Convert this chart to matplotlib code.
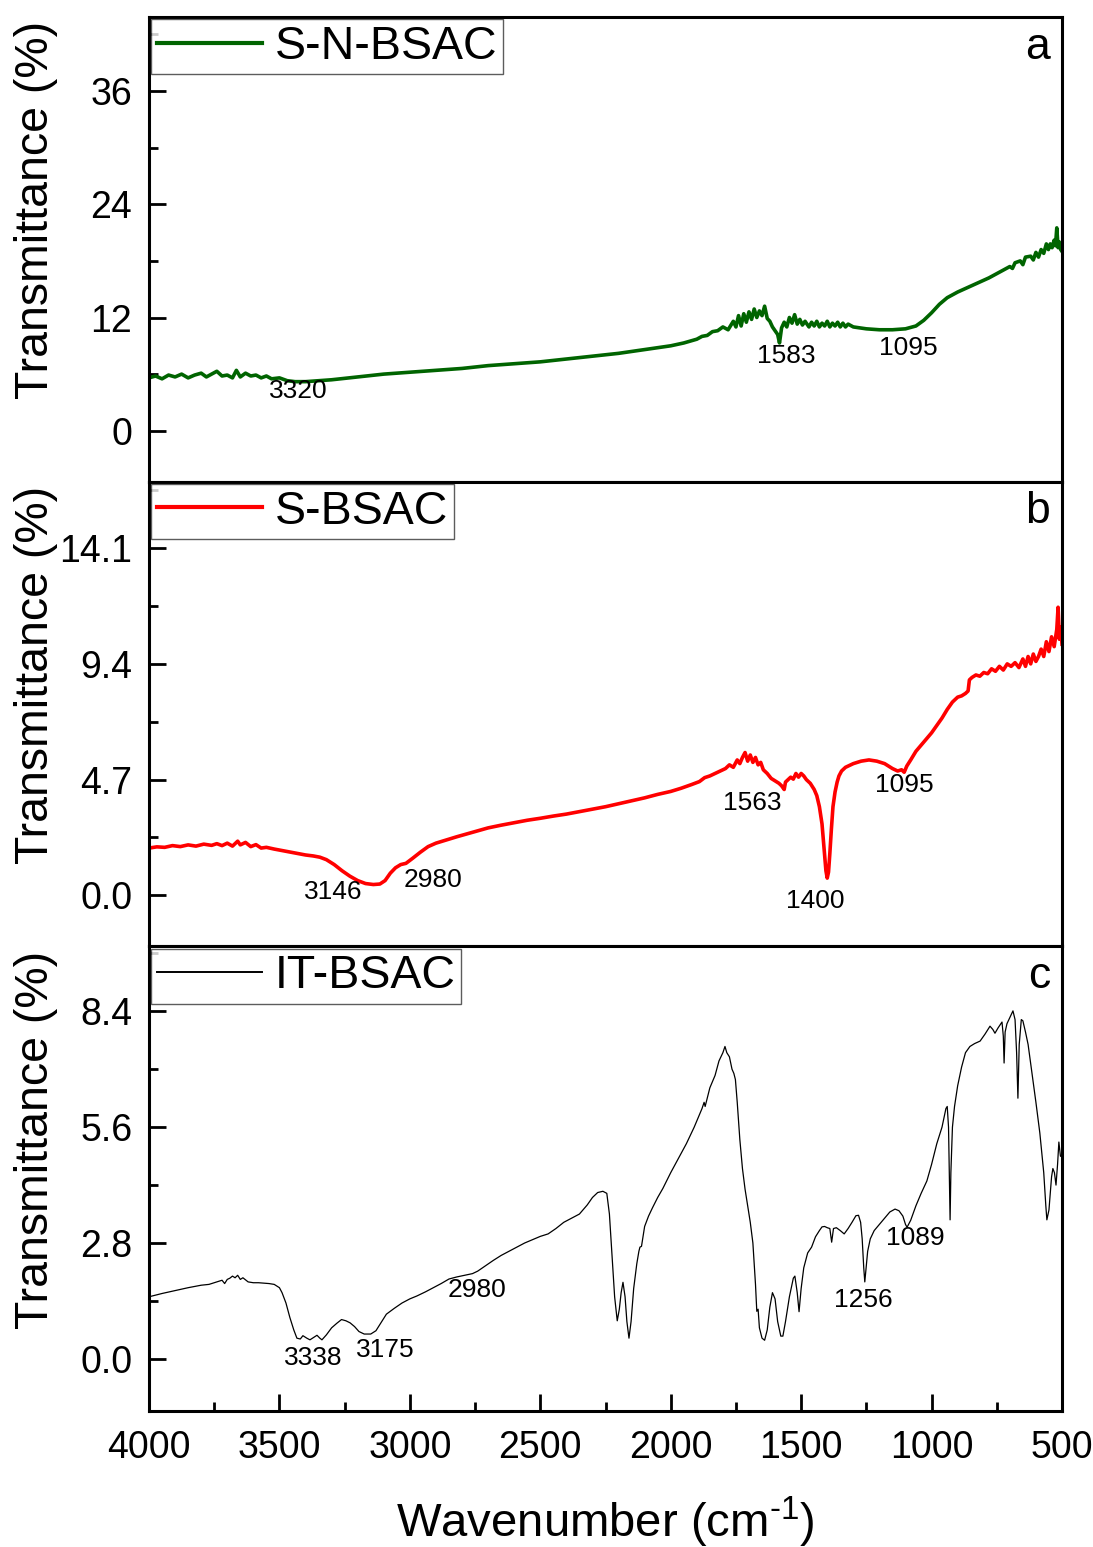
import matplotlib
matplotlib.use("Agg")
import matplotlib.pyplot as plt
from matplotlib.ticker import MultipleLocator, FixedLocator

plt.rcParams['font.family'] = ['Liberation Sans', 'DejaVu Sans']
plt.rcParams['mathtext.fontset'] = 'custom'
plt.rcParams['mathtext.rm'] = 'Liberation Sans'
plt.rcParams['mathtext.it'] = 'Liberation Sans'

# ---------------- data ----------------
wn_a = [4000, 3975, 3950, 3925, 3900, 3875, 3850, 3825, 3800, 3780, 3760, 3740, 3720, 3700,
        3680, 3665, 3650, 3630, 3610, 3590, 3570, 3550, 3530, 3500, 3470, 3440, 3400, 3350,
        3300, 3200, 3100, 3000, 2900, 2800, 2700, 2600, 2500, 2400, 2300, 2200, 2100, 2000,
        1950, 1900, 1880, 1860, 1840, 1820, 1800, 1780, 1760, 1750, 1740, 1730, 1720, 1710,
        1700, 1690, 1680, 1670, 1660, 1650, 1640, 1630, 1620, 1610, 1600, 1590, 1583, 1575,
        1565, 1555, 1545, 1535, 1525, 1515, 1505, 1495, 1485, 1470, 1460, 1450, 1440, 1430,
        1420, 1410, 1400, 1390, 1380, 1370, 1360, 1350, 1340, 1330, 1320, 1300, 1250, 1200,
        1150, 1100, 1060, 1030, 1000, 970, 940, 900, 860, 820, 780, 760, 740, 720, 700, 690,
        680, 660, 650, 640, 620, 610, 600, 590, 580, 570, 560, 552, 545, 538, 530, 525, 520,
        515, 510, 505, 500]
t_a = [5.6, 5.8, 5.5, 5.9, 5.7, 6.0, 5.6, 5.9, 6.1, 5.7, 6.0, 6.3, 5.8, 5.9,
       5.6, 6.4, 5.7, 6.1, 5.8, 5.9, 5.6, 5.8, 5.5, 5.6, 5.3, 5.2, 5.2, 5.3,
       5.4, 5.7, 6.0, 6.2, 6.4, 6.6, 6.9, 7.1, 7.3, 7.6, 7.9, 8.2, 8.6, 9.0,
       9.3, 9.7, 10.0, 10.1, 10.5, 10.6, 11.0, 10.7, 11.6, 11.0, 12.2, 11.1, 12.4, 11.5,
       12.6, 11.8, 12.9, 12.0, 12.7, 12.2, 13.2, 11.9, 11.6, 11.0, 10.6, 10.2, 9.3, 10.9,
       11.5, 11.0, 12.0, 11.4, 12.3, 11.3, 11.8, 11.2, 11.6, 11.0, 11.5, 11.1, 11.6, 11.0,
       11.4, 11.1, 11.6, 11.0, 11.4, 11.1, 11.5, 11.0, 11.4, 11.0, 11.3, 11.0, 10.8, 10.7,
       10.7, 10.8, 11.1, 11.7, 12.5, 13.4, 14.1, 14.7, 15.2, 15.7, 16.2, 16.5, 16.8, 17.1, 17.4, 17.2,
       17.8, 18.0, 17.6, 18.4, 18.5, 18.1, 18.9, 18.4, 19.2, 18.8, 19.8, 19.2, 19.8, 19.4, 20.2, 19.6, 21.5,
       19.4, 20.0, 19.2, 19.0]

wn_b = [4000, 3970, 3940, 3910, 3880, 3850, 3820, 3790, 3760, 3740, 3720, 3700, 3680, 3660,
        3650, 3630, 3610, 3590, 3570, 3550, 3520, 3490, 3460, 3430, 3400, 3370, 3345, 3320,
        3290, 3260, 3230, 3200, 3170, 3140, 3115, 3095, 3075, 3055, 3035, 3015, 2990, 2960,
        2930, 2900, 2860, 2820, 2780, 2740, 2700, 2650, 2600, 2550, 2500, 2450, 2400, 2350,
        2300, 2250, 2200, 2150, 2100, 2050, 2000, 1960, 1920, 1890, 1870, 1850, 1830, 1810,
        1790, 1775, 1760, 1745, 1735, 1725, 1715, 1705, 1695, 1685, 1675, 1665, 1655, 1645,
        1630, 1615, 1600, 1585, 1575, 1565, 1560, 1550, 1540, 1530, 1520, 1510, 1500, 1490,
        1480, 1465, 1450, 1440, 1430, 1420, 1412, 1405, 1400, 1395, 1390, 1384, 1378, 1370,
        1362, 1355, 1345, 1330, 1300, 1270, 1240, 1210, 1180, 1150, 1130, 1115, 1105, 1095,
        1080, 1060, 1040, 1020, 1000, 980, 960, 940, 920, 900, 885, 870, 860, 855, 845, 830,
        815, 800, 785, 770, 755, 740, 725, 710, 695, 680, 665, 650, 640, 630, 620, 610, 600,
        590, 580, 570, 560, 550, 540, 530, 520, 515, 510, 505, 500]
t_b = [1.92, 1.97, 1.95, 2.02, 1.98, 2.05, 2.0, 2.08, 2.03, 2.1, 2.02, 2.12, 2.0, 2.2,
       2.05, 2.15, 1.98, 2.06, 1.92, 1.95, 1.88, 1.82, 1.76, 1.7, 1.64, 1.6, 1.55, 1.45,
       1.25, 1.0, 0.78, 0.6, 0.48, 0.44, 0.46, 0.6, 0.9, 1.12, 1.25, 1.3, 1.5, 1.75,
       1.98, 2.12, 2.25, 2.38, 2.5, 2.62, 2.74, 2.85, 2.95, 3.05, 3.13, 3.22, 3.3, 3.4,
       3.5, 3.6, 3.72, 3.84, 3.96, 4.1, 4.22, 4.35, 4.5, 4.62, 4.78, 4.85, 4.95, 5.05,
       5.15, 5.3, 5.2, 5.5, 5.35, 5.6, 5.8, 5.45, 5.7, 5.4, 5.6, 5.3, 5.4, 5.1,
       4.95, 4.75, 4.65, 4.55, 4.45, 4.3, 4.6, 4.7, 4.8, 4.72, 4.95, 4.8, 4.95, 4.85,
       4.7, 4.55, 4.3, 4.05, 3.6, 2.9, 1.9, 1.0, 0.7, 0.95, 1.7, 2.7, 3.6, 4.2,
       4.6, 4.85, 5.05, 5.2, 5.35, 5.45, 5.5, 5.45, 5.35, 5.15, 5.05, 5.1, 5.0, 5.25,
       5.5, 5.85, 6.1, 6.35, 6.6, 6.9, 7.2, 7.55, 7.85, 8.05, 8.1, 8.2, 8.3, 8.75, 8.85, 8.95,
       8.9, 9.05, 9.0, 9.2, 9.1, 9.3, 9.15, 9.4, 9.3, 9.45, 9.25, 9.6, 9.3, 9.7, 9.4, 9.8, 9.5,
       9.7, 10.0, 9.7, 10.3, 9.9, 10.5, 10.1, 10.8, 11.7, 10.4, 10.9, 10.2]

wn_c = [4000, 3950, 3900, 3850, 3800, 3770, 3740, 3720, 3710, 3700, 3690, 3680, 3670, 3660,
        3650, 3640, 3620, 3600, 3580, 3560, 3540, 3520, 3500, 3490, 3475, 3460, 3445, 3433,
        3420, 3410, 3395, 3383, 3368, 3356, 3345, 3337, 3320, 3300, 3280, 3262, 3245, 3229,
        3212, 3195, 3175, 3150, 3130, 3110, 3090, 3060, 3030, 3000, 2973, 2940, 2910, 2880,
        2850, 2820, 2790, 2760, 2740, 2710, 2680, 2650, 2620, 2590, 2560, 2530, 2500, 2470,
        2440, 2410, 2380, 2350, 2320, 2300, 2280, 2260, 2245, 2235, 2225, 2215, 2205, 2197,
        2190, 2183, 2175, 2168, 2160, 2152, 2142, 2130, 2122, 2118, 2112, 2100, 2085, 2070,
        2050, 2030, 2000, 1970, 1940, 1910, 1880, 1872, 1868, 1850, 1830, 1815, 1800, 1792,
        1785, 1775, 1765, 1758, 1752, 1745, 1735, 1725, 1715, 1705, 1695, 1685, 1675, 1670,
        1665, 1660, 1650, 1640, 1630, 1620, 1610, 1600, 1590, 1578, 1570, 1560, 1545, 1530,
        1524, 1515, 1508, 1500, 1490, 1475, 1460, 1445, 1430, 1420, 1410, 1400, 1390, 1383,
        1376, 1365, 1350, 1335, 1320, 1305, 1290, 1280, 1272, 1266, 1260, 1256, 1251, 1245,
        1235, 1220, 1200, 1180, 1160, 1140, 1125, 1110, 1100, 1094, 1080, 1060, 1040, 1018,
        1000, 980, 960, 945, 940, 935, 931, 929, 926, 920, 912, 900, 885, 870, 853, 835,
        814, 795, 776, 765, 757, 745, 730, 725, 722, 718, 711, 700, 688, 680, 674, 669,
        664, 656, 650, 640, 630, 615, 600, 585, 570, 562, 558, 550, 540, 535, 529, 523,
        517, 512, 506, 500]
t_c = [1.5, 1.58, 1.65, 1.72, 1.78, 1.8, 1.86, 1.9, 1.82, 1.92, 1.95, 2.0, 1.96, 2.02,
       1.92, 1.96, 1.86, 1.84, 1.84, 1.83, 1.82, 1.8, 1.72, 1.6, 1.35, 1.0, 0.7, 0.5,
       0.48, 0.56, 0.5, 0.46, 0.52, 0.57, 0.5, 0.46, 0.58, 0.75, 0.86, 0.95, 0.92, 0.87,
       0.78, 0.66, 0.6, 0.6, 0.68, 0.88, 1.08, 1.22, 1.35, 1.45, 1.52, 1.62, 1.72, 1.82,
       1.93, 1.98, 2.02, 2.06, 2.12, 2.25, 2.38, 2.5, 2.6, 2.7, 2.8, 2.88, 2.96, 3.02,
       3.15, 3.3, 3.4, 3.5, 3.72, 3.9, 4.02, 4.05, 4.0, 3.5, 2.5, 1.5, 0.92, 1.2,
       1.6, 1.85, 1.5, 0.9, 0.5, 0.9, 1.7, 2.3, 2.6, 2.7, 2.72, 3.2, 3.45, 3.65,
       3.9, 4.12, 4.5, 4.85, 5.2, 5.6, 6.05, 6.2, 6.1, 6.55, 6.85, 7.2, 7.4, 7.55,
       7.4, 7.3, 7.0, 6.9, 6.75, 6.2, 5.3, 4.6, 4.1, 3.7, 3.3, 2.8, 1.8, 1.15,
       1.2, 0.75, 0.5, 0.45, 0.7, 1.25, 1.6, 1.45, 0.9, 0.55, 0.55, 0.9, 1.5, 1.95,
       2.0, 1.6, 1.14, 1.7, 2.2, 2.56, 2.7, 2.95, 3.1, 3.19, 3.2, 3.17, 3.15, 2.82,
       3.15, 3.17, 3.1, 3.02, 3.15, 3.3, 3.46, 3.47, 3.3, 2.9, 2.2, 1.86, 2.2, 2.6,
       2.9, 3.1, 3.25, 3.4, 3.55, 3.62, 3.58, 3.45, 3.25, 3.18, 3.35, 3.7, 4.0, 4.3,
       4.7, 5.2, 5.6, 6.05, 6.1, 5.6, 4.2, 3.36, 4.5, 5.6, 6.1, 6.6, 7.05, 7.4, 7.55, 7.62,
       7.68, 7.85, 8.04, 7.96, 7.87, 8.0, 8.14, 7.8, 7.15, 7.9, 8.1, 8.25, 8.41, 8.2, 7.4, 6.3,
       7.6, 8.2, 8.17, 7.9, 7.6, 6.9, 6.2, 5.46, 4.5, 3.7, 3.36, 3.6, 4.4, 4.6, 4.5, 4.2,
       4.7, 5.24, 4.9, 4.88]

series_names = ["S-N-BSAC", "S-BSAC", "IT-BSAC"]
panel_letters = ["a", "b", "c"]
yticks_a = [0, 12, 24, 36]
yticks_b = [0.0, 4.7, 9.4, 14.1]
yticks_c = [0.0, 2.8, 5.6, 8.4]
xticks = [4000, 3500, 3000, 2500, 2000, 1500, 1000, 500]

peaks_a = [(3320, 3429, 4.24), (1583, 1558, 7.9), (1095, 1090, 8.8)]
peaks_b = [(3146, 3295, 0.12), (2980, 2911, 0.61), (1563, 1688, 3.74), (1400, 1447, -0.24), (1095, 1106, 4.5)]
peaks_c = [(3338, 3371, 0.02), (3175, 3095, 0.22), (2980, 2743, 1.67), (1256, 1263, 1.43), (1089, 1064, 2.92)]

# ---------------- figure ----------------
fig, axes = plt.subplots(3, 1, figsize=(10.93, 15.47), dpi=100, sharex=True)
fig.subplots_adjust(left=149/1093, right=1062/1093, top=1-17/1547, bottom=1-1411/1547, hspace=0)

specs = [
    (wn_a, t_a, '#006400', 2.6, (-5.4, 43.85), yticks_a, 6, [str(v) for v in yticks_a], peaks_a),
    (wn_b, t_b, '#ff0000', 2.6, (-2.07, 16.8), yticks_b, 2.35, [f"{v:.1f}" for v in yticks_b], peaks_b),
    (wn_c, t_c, '#000000', 0.9, (-1.26, 9.97), yticks_c, 1.4, [f"{v:.1f}" for v in yticks_c], peaks_c),
]

for i, (ax, spec) in enumerate(zip(axes, specs)):
    wn, tv, col, lw, ylim, yt, ymin_step, ytl, peaks = spec
    ax.plot(wn, tv, color=col, lw=lw, label=series_names[i])
    ax.set_xlim(4000, 500)
    ax.set_ylim(*ylim)
    ax.set_yticks(yt)
    ax.set_yticklabels(ytl)
    ax.yaxis.set_minor_locator(MultipleLocator(ymin_step))
    ax.xaxis.set_major_locator(FixedLocator(xticks))
    ax.xaxis.set_minor_locator(MultipleLocator(250))
    for s in ax.spines.values():
        s.set_linewidth(2.2)
    ax.tick_params(which='major', direction='in', length=12, width=2.0, labelsize=27, pad=12)
    ax.tick_params(which='minor', direction='in', length=6.5, width=2.0)
    ax.tick_params(axis='x', which='both', top=False, bottom=(i == 2))
    ax.tick_params(axis='y', which='both', right=False)
    ax.set_ylabel("Transmittance (%)", fontsize=33.5)
    ax.yaxis.set_label_coords(-0.10, 0.584)
    leg = ax.legend(loc='upper left', bbox_to_anchor=(0, 1), borderaxespad=0.05,
                    fontsize=33.5, frameon=True, fancybox=False, shadow=False,
                    handlelength=2.25, handletextpad=0.28, borderpad=0.12)
    leg.get_frame().set_edgecolor('#333333')
    leg.get_frame().set_linewidth(1.0)
    for ln in leg.get_lines():
        ln.set_linewidth(3.0 if i < 2 else 1.4)
    ax.text(0.987, 0.935, panel_letters[i], transform=ax.transAxes, fontsize=32,
            ha='right', va='center')
    for lab, x, y in peaks:
        ax.text(x, y, str(lab), fontsize=19, ha='center', va='center')

axes[2].set_xticklabels([str(v) for v in xticks])
axes[2].tick_params(axis='x', which='major', pad=14)
axes[2].set_xlabel(r"Wavenumber (cm$^{\text{-1}}$)", fontsize=34)
axes[2].xaxis.set_label_coords(0.5, -0.18)

fig.savefig("out.png", dpi=100)
